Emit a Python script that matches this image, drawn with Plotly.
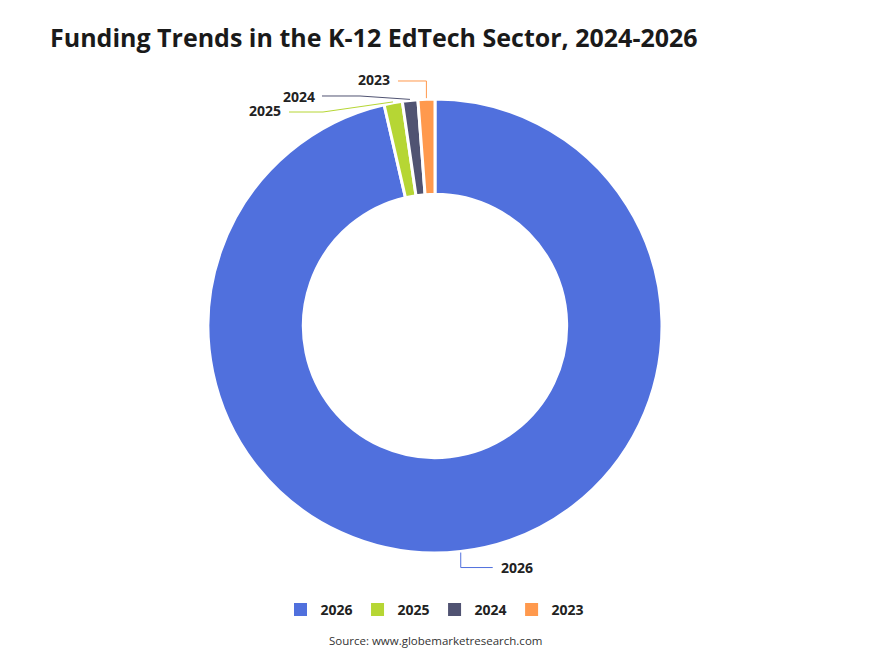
import math
import plotly.graph_objects as go

# ---- data ----
years = ["2026", "2025", "2024", "2023"]
funding_share = [96.4, 1.3, 1.1, 1.2]
colors = ["#5070dd", "#b6d634", "#505372", "#ff994d"]

W, H = 870, 653
CX, CY, R = 435, 326, 227

fig = go.Figure(go.Pie(
    labels=years, values=funding_share, sort=False, direction="clockwise",
    rotation=0, hole=0.58, textinfo="none", hoverinfo="label+value", showlegend=False,
    marker=dict(colors=colors, line=dict(color="white", width=3)),
    domain=dict(x=[(CX - R) / W, (CX + R) / W], y=[(H - CY - R) / H, (H - CY + R) / H]),
))

# legend entries with larger square swatches
for yr, c in zip(years, colors):
    fig.add_trace(go.Scatter(x=[None], y=[None], mode="markers", name=yr,
                             marker=dict(symbol="square", size=13, color=c),
                             hoverinfo="skip", showlegend=True))

def px(x, y):
    return x / W, 1 - y / H

# label layout: (elbow, end, text anchor x, text anchor y, xanchor)
label_layout = {
    "2026": lambda p: ((p[0], p[1] + 15), (p[0] + 32, p[1] + 15), p[0] + 38, p[1] + 15, "left"),
    "2023": lambda p: ((p[0], 81), (398, 81), 392, 80, "right"),
    "2024": lambda p: ((360, 96), (322, 96), 317, 96, "right"),
    "2025": lambda p: ((323, 112), (289, 112), 283, 111, "right"),
}

total = sum(funding_share)
cum = 0
shapes, annotations = [], []
for yr, v, c in zip(years, funding_share, colors):
    mid = (cum + v / 2) / total * 2 * math.pi
    cum += v
    p = (CX + (R + 1) * math.sin(mid), CY - (R + 1) * math.cos(mid))
    elbow, end, tx, ty, xa = label_layout[yr](p)
    pts = [px(*p), px(*elbow), px(*end)]
    path = "M {} {} L {} {} L {} {}".format(*[f"{a:.5f}" for pt in pts for a in pt])
    shapes.append(dict(type="path", path=path, xref="paper", yref="paper",
                       line=dict(color=c, width=1)))
    ax, ay = px(tx, ty)
    annotations.append(dict(text=f"<b>{yr}</b>", x=ax, y=ay, xref="paper", yref="paper",
                            xanchor=xa, yanchor="middle", showarrow=False,
                            font=dict(size=14, color="#222", family="Open Sans")))

annotations.append(dict(text="Source: www.globemarketresearch.com", x=0.5, y=1 - 640 / H,
                        xref="paper", yref="paper", showarrow=False, xanchor="center",
                        yanchor="middle", font=dict(size=11.5, color="#333", family="Open Sans")))

fig.update_layout(
    width=W, height=H, margin=dict(l=0, r=0, t=0, b=0),
    paper_bgcolor="white", plot_bgcolor="white",
    xaxis=dict(visible=False), yaxis=dict(visible=False),
    title=dict(text="<b>Funding Trends in the K-12 EdTech Sector, 2024-2026</b>",
               x=50 / W, xanchor="left", y=1 - 38 / H, yanchor="middle",
               font=dict(size=25, color="#1a1a1a", family="Open Sans")),
    showlegend=True,
    legend=dict(orientation="h", x=0.5, xanchor="center", y=1 - 610 / H, yanchor="middle",
                font=dict(size=14, color="#222", family="Open Sans", weight="bold"),
                itemwidth=30, tracegroupgap=0, itemsizing="trace"),
    shapes=shapes, annotations=annotations,
)

fig.write_html("out.html")
